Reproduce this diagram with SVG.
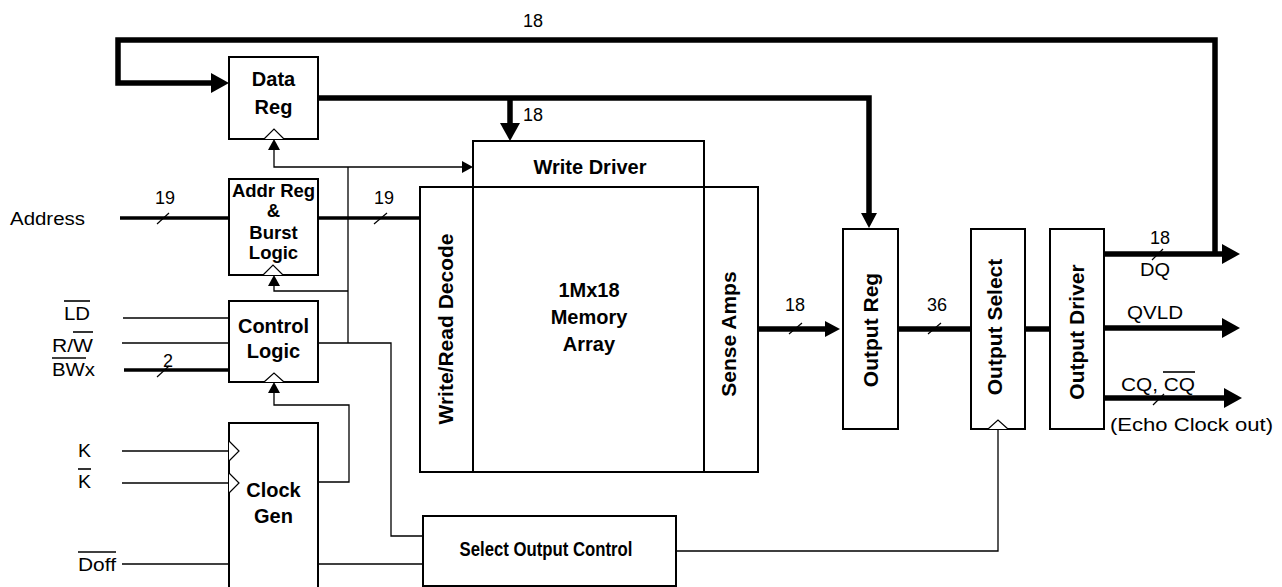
<svg xmlns="http://www.w3.org/2000/svg" width="1282" height="587" viewBox="0 0 1282 587">
<style>
.box{fill:#fff;stroke:#000;stroke-width:2}
.clk{fill:#fff;stroke:#000;stroke-width:1.2}
.thin{fill:none;stroke:#000;stroke-width:1.3}
.bus{fill:none;stroke:#000;stroke-width:3.5}
.thick{fill:none;stroke:#000;stroke-width:5.5}
.slash{stroke:#000;stroke-width:1.2}
.ovl{stroke:#000;stroke-width:1.6}
.b{font-family:"Liberation Sans",Arial,sans-serif;font-weight:bold;font-size:20px;text-anchor:middle;fill:#000}
.r{font-family:"Liberation Sans",Arial,sans-serif;font-size:18px;fill:#000}
.n{font-family:"Liberation Sans",Arial,sans-serif;font-size:18px;fill:#000;text-anchor:middle}
</style>
<defs>
<marker id="ah" markerUnits="userSpaceOnUse" markerWidth="20" markerHeight="22" viewBox="0 -11 20 22" refX="4" refY="0" orient="auto"><path d="M0,-10 L18,0 L0,10 Z" fill="#000"/></marker>
<marker id="ahs" markerUnits="userSpaceOnUse" markerWidth="16" markerHeight="18" viewBox="0 -9 16 18" refX="2" refY="0" orient="auto"><path d="M0,-8 L15,0 L0,8 Z" fill="#000"/></marker>
<marker id="at" markerUnits="userSpaceOnUse" markerWidth="12" markerHeight="14" viewBox="0 -7 12 14" refX="3" refY="0" orient="auto"><path d="M0,-6 L11,0 L0,6 Z" fill="#000"/></marker>
</defs>
<rect width="1282" height="587" fill="#fff"/>

<g id="connectors">
<path class="thick" d="M1215,254 V40 H118 V83 H215" marker-end="url(#ah)"/>
<path class="thick" d="M318,98 H869 V215" marker-end="url(#ahs)"/>
<path class="thick" d="M510,98 V127" marker-end="url(#ah)"/>
<path class="bus" d="M120,218 H229"/>
<path class="bus" d="M318,218 H420"/>
<path class="bus" d="M124,370 H229"/>
<path class="thick" d="M758,329 H827" marker-end="url(#ahs)"/>
<path class="thick" d="M898,329 H971"/>
<path class="thick" d="M1025,329 H1050"/>
<path class="thick" d="M1104,254 H1226" marker-end="url(#ah)"/>
<path class="thick" d="M1104,328 H1226" marker-end="url(#ah)"/>
<path class="thick" d="M1104,398 H1228" marker-end="url(#ah)"/>
<path class="thin" d="M348,343 V167"/>
<path class="thin" d="M348,167 H274 V147" marker-end="url(#at)"/>
<path class="thin" d="M348,167 H465" marker-end="url(#at)"/>
<path class="thin" d="M348,291 H274 V283" marker-end="url(#at)"/>
<path class="thin" d="M318,343 H391 V536 H423"/>
<path class="thin" d="M318,482 H349 V405 H274 V390" marker-end="url(#at)"/>
<path class="thin" d="M123,318 H229"/>
<path class="thin" d="M122,343 H229"/>
<path class="thin" d="M122,451 H229"/>
<path class="thin" d="M122,483 H229"/>
<path class="thin" d="M122,564 H229"/>
<path class="thin" d="M318,564 H423"/>
<path class="thin" d="M676,551 H998 V429"/>
<line class="slash" x1="157" y1="224" x2="169" y2="213"/>
<line class="slash" x1="374" y1="224" x2="387" y2="213"/>
<line class="slash" x1="157" y1="377" x2="169" y2="366"/>
<line class="slash" x1="789" y1="334" x2="802" y2="323"/>
<line class="slash" x1="928" y1="334" x2="941" y2="323"/>
<line class="slash" x1="1152" y1="260" x2="1163" y2="249"/>
<line class="slash" x1="1153" y1="405" x2="1164" y2="394"/>
</g>

<g id="data-reg">
<rect class="box" x="229" y="57" width="89" height="82"/>
<path class="clk" d="M264,139 L274,129 L284,139"/>
<text class="b" x="273.5" y="86">Data</text>
<text class="b" x="273.5" y="114">Reg</text>
</g>

<g id="addr-reg">
<rect class="box" x="229" y="179" width="89" height="96"/>
<path class="clk" d="M263,275 L273,265 L283,275"/>
<text class="b" style="font-size:18.5px" x="273.5" y="197">Addr Reg</text>
<text class="b" style="font-size:18.5px" x="273.5" y="217">&amp;</text>
<text class="b" style="font-size:18.5px" x="273.5" y="239">Burst</text>
<text class="b" style="font-size:18.5px" x="273.5" y="259">Logic</text>
</g>

<g id="control-logic">
<rect class="box" x="229" y="301" width="89" height="81"/>
<path class="clk" d="M264,382 L274,373 L284,382"/>
<text class="b" x="273.5" y="333">Control</text>
<text class="b" x="273.5" y="358">Logic</text>
</g>

<g id="clock-gen">
<rect class="box" x="229" y="423" width="89" height="180"/>
<path class="clk" d="M229,441 L239,451 L229,461"/>
<path class="clk" d="M229,473 L239,483 L229,493"/>
<text class="b" x="273.5" y="497">Clock</text>
<text class="b" x="273.5" y="523">Gen</text>
</g>

<g id="write-driver">
<rect class="box" x="473" y="141" width="231" height="46"/>
<text class="b" x="590" y="174">Write Driver</text>
</g>

<g id="write-read-decode">
<rect class="box" x="420" y="187" width="53" height="285"/>
<text class="b" style="font-size:21px" transform="translate(453,329) rotate(-90)" x="0" y="0">Write/Read Decode</text>
</g>

<g id="memory-array">
<rect class="box" x="473" y="187" width="231" height="285"/>
<text class="b" x="589" y="297">1Mx18</text>
<text class="b" x="589" y="324">Memory</text>
<text class="b" x="589" y="351">Array</text>
</g>

<g id="sense-amps">
<rect class="box" x="704" y="187" width="54" height="285"/>
<text class="b" style="font-size:21px" transform="translate(736,334) rotate(-90)" x="0" y="0">Sense Amps</text>
</g>

<g id="output-reg">
<rect class="box" x="843" y="229" width="55" height="200"/>
<text class="b" style="font-size:21px" transform="translate(878,330) rotate(-90)" x="0" y="0">Output Reg</text>
</g>

<g id="output-select">
<rect class="box" x="971" y="229" width="54" height="200"/>
<path class="clk" d="M988,429 L998,420 L1008,429"/>
<text class="b" style="font-size:21px" transform="translate(1002,327) rotate(-90)" x="0" y="0">Output Select</text>
</g>

<g id="output-driver">
<rect class="box" x="1050" y="229" width="54" height="200"/>
<text class="b" style="font-size:21px" transform="translate(1084,332) rotate(-90)" x="0" y="0">Output Driver</text>
</g>

<g id="select-output-control">
<rect class="box" x="423" y="516" width="253" height="70"/>
<text class="b" x="546" y="556" textLength="173" lengthAdjust="spacingAndGlyphs">Select Output Control</text>
</g>

<g id="labels">
<text class="r" x="10" y="225" textLength="75" lengthAdjust="spacingAndGlyphs">Address</text>
<text class="n" x="165" y="204">19</text>
<text class="n" x="384" y="204">19</text>
<text class="r" x="64" y="320" textLength="26" lengthAdjust="spacingAndGlyphs">LD</text>
<line class="ovl" x1="64" y1="301" x2="90" y2="301"/>
<text class="r" x="52" y="352" textLength="41" lengthAdjust="spacingAndGlyphs">R/W</text>
<line class="ovl" x1="73" y1="332" x2="93" y2="332"/>
<text class="r" x="52" y="376" textLength="43" lengthAdjust="spacingAndGlyphs">BWx</text>
<line class="ovl" x1="52" y1="358" x2="86" y2="358"/>
<text class="n" x="168" y="367">2</text>
<text class="r" x="78" y="457" textLength="13" lengthAdjust="spacingAndGlyphs">K</text>
<text class="r" x="78" y="488" textLength="13" lengthAdjust="spacingAndGlyphs">K</text>
<line class="ovl" x1="78" y1="469" x2="91" y2="469"/>
<text class="r" x="78" y="571" textLength="38" lengthAdjust="spacingAndGlyphs">Doff</text>
<line class="ovl" x1="78" y1="552" x2="116" y2="552"/>
<text class="n" x="533" y="27">18</text>
<text class="n" x="533" y="121">18</text>
<text class="n" x="795" y="311">18</text>
<text class="n" x="937" y="311">36</text>
<text class="n" x="1160" y="244">18</text>
<text class="r" x="1140" y="276" textLength="30" lengthAdjust="spacingAndGlyphs">DQ</text>
<text class="r" x="1127" y="319" textLength="56" lengthAdjust="spacingAndGlyphs">QVLD</text>
<text class="r" x="1121" y="391" textLength="74" lengthAdjust="spacingAndGlyphs">CQ, CQ</text>
<line class="ovl" x1="1163" y1="372" x2="1195" y2="372"/>
<text class="r" x="1110" y="431" textLength="163" lengthAdjust="spacingAndGlyphs">(Echo Clock out)</text>
</g>
</svg>
